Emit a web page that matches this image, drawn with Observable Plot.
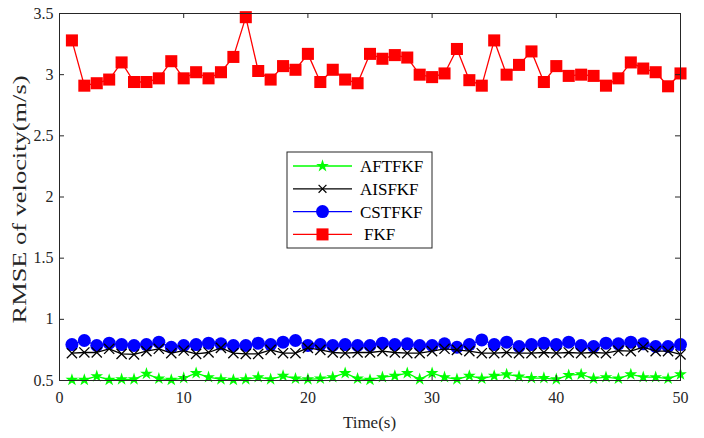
<!DOCTYPE html>
<html>
<head>
<meta charset="utf-8">
<script src="https://cdn.jsdelivr.net/npm/d3@7"></script>
<script src="https://cdn.jsdelivr.net/npm/@observablehq/plot@0.6"></script>
<style>
  html, body { margin: 0; padding: 0; background: #fff; }
  #chart { position: relative; width: 704px; height: 438px; }
</style>
</head>
<body>
<div id="chart"></div>
<script>
const time = [1,2,3,4,5,6,7,8,9,10,11,12,13,14,15,16,17,18,19,20,21,22,23,24,25,
              26,27,28,29,30,31,32,33,34,35,36,37,38,39,40,41,42,43,44,45,46,47,48,49,50];

const seriesNames = ["AFTFKF", "AISFKF", "CSTFKF", "FKF"];

const AFTFKF = [0.505,0.505,0.535,0.505,0.51,0.51,0.555,0.515,0.505,0.52,0.56,0.527,
                0.51,0.505,0.51,0.527,0.51,0.538,0.515,0.51,0.515,0.527,0.56,0.515,
                0.505,0.527,0.538,0.56,0.51,0.56,0.527,0.51,0.538,0.515,0.538,0.55,0.533,
                0.52,0.52,0.51,0.544,0.55,0.515,0.527,0.515,0.55,0.527,0.527,0.515,0.55];

const AISFKF = [0.723,0.729,0.729,0.759,0.718,0.713,0.74,0.759,0.723,0.745,0.718,0.729,
                0.767,0.723,0.718,0.718,0.75,0.723,0.723,0.767,0.75,0.729,0.723,0.729,
                0.729,0.74,0.729,0.723,0.723,0.74,0.759,0.75,0.74,0.723,0.723,0.729,0.723,
                0.723,0.729,0.723,0.729,0.723,0.729,0.723,0.745,0.74,0.772,0.74,0.74,0.713];

const CSTFKF = [0.794,0.827,0.786,0.805,0.794,0.786,0.794,0.813,0.772,0.786,0.794,0.805,
                0.80,0.786,0.786,0.805,0.794,0.813,0.827,0.786,0.794,0.786,0.794,0.786,
                0.786,0.805,0.794,0.80,0.786,0.786,0.80,0.772,0.794,0.832,0.794,0.813,0.778,
                0.794,0.805,0.794,0.813,0.786,0.778,0.805,0.80,0.813,0.80,0.778,0.778,0.794];

const FKF = [3.28,2.91,2.93,2.96,3.10,2.94,2.94,2.97,3.11,2.97,3.02,2.97,3.02,3.145,3.47,
             3.03,2.96,3.07,3.04,3.17,2.94,3.04,2.96,2.93,3.17,3.13,3.16,3.14,3.00,2.98,
             3.01,3.21,2.955,2.91,3.28,3.00,3.08,3.19,2.94,3.07,2.99,3.00,2.99,2.91,2.97,
             3.10,3.05,3.02,2.905,3.01];

const xTicks = [0, 10, 20, 30, 40, 50];
const yTicks = [0.5, 1, 1.5, 2, 2.5, 3, 3.5];

const rows = (vals) => time.map((t, i) => ({t, v: vals[i]}));

const W = 704, H = 438;
const mL = 59, mR = 24, mT = 13, mB = 58;
const fw = W - mL - mR, fh = H - mT - mB;
const axisColor = "#262626";
const FONT = "'Liberation Serif', 'Times New Roman', serif";

const style = [
  {name: "FKF", data: rows(FKF), color: "#ff0000", symbol: "square", r: 6.8, fill: true},
  {name: "CSTFKF", data: rows(CSTFKF), color: "#0000ff", symbol: "circle", r: 6.5, fill: true},
  {name: "AISFKF", data: rows(AISFKF), color: "#000000", symbol: "times", r: 4.7, fill: false},
  {name: "AFTFKF", data: rows(AFTFKF), color: "#00ff00", symbol: "star", r: 4.0, fill: true}
];

const marks = [];
for (const s of style) {
  marks.push(Plot.line(s.data, {x: "t", y: "v", stroke: s.color, strokeWidth: 1.3}));
  if (s.fill) {
    marks.push(Plot.dot(s.data, {x: "t", y: "v", symbol: s.symbol, r: s.r, fill: s.color, stroke: "none"}));
  } else {
    marks.push(Plot.dot(s.data, {x: "t", y: "v", symbol: s.symbol, r: s.r, stroke: s.color, strokeWidth: 1.3}));
  }
}

const chart = Plot.plot({
  width: W, height: H,
  marginLeft: mL, marginRight: mR, marginTop: mT, marginBottom: mB,
  style: {fontFamily: FONT, fontSize: "16px", color: axisColor, background: "#fff"},
  x: {domain: [0, 50]},
  y: {domain: [0.5, 3.5]},
  marks: [
    ...marks,
    Plot.frame({stroke: axisColor, strokeWidth: 1}),
    Plot.tickX(xTicks, {x: d => d, stroke: axisColor, insetTop: fh - 5}),
    Plot.tickX(xTicks, {x: d => d, stroke: axisColor, insetBottom: fh - 5}),
    Plot.tickY(yTicks, {y: d => d, stroke: axisColor, insetRight: fw - 5}),
    Plot.tickY(yTicks, {y: d => d, stroke: axisColor, insetLeft: fw - 5}),
    Plot.axisX(xTicks, {tickSize: 0, tickPadding: 11, label: null, tickFormat: d => String(d), fontSize: 16, fontFamily: FONT}),
    Plot.axisY(yTicks, {tickSize: 0, tickPadding: 6, label: null, tickFormat: d => String(d), fontSize: 16, fontFamily: FONT})
  ]
});

document.getElementById("chart").appendChild(chart);

// axis labels and legend
const svg = d3.select(chart);
svg.append("text")
  .attr("x", mL + fw / 2).attr("y", 428)
  .attr("text-anchor", "middle").attr("font-family", FONT)
  .attr("font-size", 17).attr("fill", axisColor)
  .text("Time(s)");
svg.append("text")
  .attr("transform", `translate(26,${mT + fh / 2 + 3}) rotate(-90)`)
  .attr("text-anchor", "middle").attr("font-family", FONT)
  .attr("font-size", 19).attr("fill", axisColor)
  .attr("textLength", 248).attr("lengthAdjust", "spacingAndGlyphs")
  .text("RMSE of velocity(m/s)");

const legendOrder = ["AFTFKF", "AISFKF", "CSTFKF", "FKF"];
const lg = svg.append("g");
lg.append("rect").attr("x", 287).attr("y", 152).attr("width", 145).attr("height", 96)
  .attr("fill", "#fff").attr("stroke", axisColor).attr("stroke-width", 1);
const symbolMap = {square: d3.symbolSquare, circle: d3.symbolCircle, times: d3.symbolTimes, star: d3.symbolStar};
legendOrder.forEach((name, i) => {
  const s = style.find(d => d.name === name);
  const yy = 166 + i * 22.8;
  lg.append("line").attr("x1", 293).attr("x2", 352).attr("y1", yy).attr("y2", yy)
    .attr("stroke", s.color).attr("stroke-width", 1.3);
  const p = d3.symbol(symbolMap[s.symbol], Math.PI * s.r * s.r * (s.symbol === "times" ? 0.6 : 1))();
  const m = lg.append("path").attr("d", p).attr("transform", `translate(322.5,${yy})`);
  if (s.fill) m.attr("fill", s.color); else m.attr("fill", "none").attr("stroke", s.color).attr("stroke-width", 1.2);
  lg.append("text").attr("x", name === "FKF" ? 364 : 360).attr("y", yy).attr("dy", "0.35em")
    .attr("text-anchor", "start").attr("font-family", FONT)
    .attr("font-size", 17).attr("fill", "#000").text(name);
});
</script>
</body>
</html>
